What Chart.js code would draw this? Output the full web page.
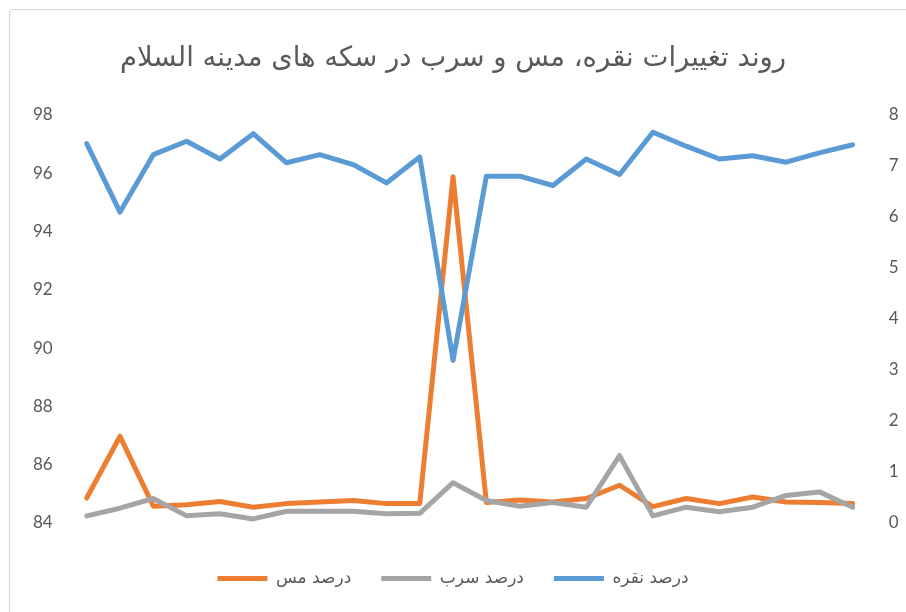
<!DOCTYPE html>
<html>
<head>
<meta charset="utf-8">
<script src="https://cdn.jsdelivr.net/npm/chart.js@4.4.1/dist/chart.umd.min.js"></script>
<style>
  html, body { margin: 0; padding: 0; background: #ffffff; }
  #wrap { position: relative; width: 906px; height: 612px; overflow: hidden; }
  #frame { position: absolute; left: 9px; top: 9px; width: 1000px; height: 1000px; border: 1px solid #d6d6d6; border-radius: 3px; }
  canvas { position: absolute; left: 0; top: 0; }
</style>
</head>
<body>
<div id="wrap">
  <div id="frame"></div>
  <canvas id="c" width="906" height="612"></canvas>
</div>
<script>
const titleText = 'روند تغییرات نقره، مس و سرب در سکه های مدینه السلام';
const categories = ['1','2','3','4','5','6','7','8','9','10','11','12','13','14','15','16','17','18','19','20','21','22','23','24'];
const silverLabel = 'درصد نقره';
const leadLabel = 'درصد سرب';
const copperLabel = 'درصد مس';
const silver = [97.02, 94.67, 96.64, 97.10, 96.49, 97.36, 96.36, 96.64, 96.30, 95.67, 96.56, 89.58, 95.90, 95.90, 95.58, 96.49, 95.96, 97.41, 96.93, 96.49, 96.60, 96.38, 96.70, 96.98];
const lead   = [0.14, 0.29, 0.48, 0.14, 0.18, 0.08, 0.23, 0.23, 0.23, 0.18, 0.19, 0.79, 0.44, 0.33, 0.40, 0.31, 1.32, 0.14, 0.31, 0.22, 0.31, 0.54, 0.61, 0.31];
const copper = [0.49, 1.70, 0.33, 0.36, 0.42, 0.31, 0.38, 0.41, 0.44, 0.38, 0.38, 6.79, 0.40, 0.45, 0.41, 0.48, 0.74, 0.32, 0.48, 0.38, 0.51, 0.41, 0.40, 0.38];
const leftTicks = {min: 84, max: 98, step: 2};
const rightTicks = {min: 0, max: 8, step: 1};

const txt = '#595959';
const lineDs = (label, data, color, axis) => ({
  label, data, yAxisID: axis,
  borderColor: color, backgroundColor: color,
  borderWidth: 5, pointRadius: 0, pointHoverRadius: 0,
  borderCapStyle: 'round', borderJoinStyle: 'round',
  tension: 0, fill: false
});

new Chart(document.getElementById('c'), {
  type: 'line',
  data: {
    labels: categories,
    datasets: [
      lineDs(silverLabel, silver, '#5B9BD5', 'yL'),
      lineDs(leadLabel, lead, '#A5A5A5', 'yR'),
      lineDs(copperLabel, copper, '#ED7D31', 'yR')
    ]
  },
  options: {
    responsive: false,
    animation: false,
    layout: { padding: { top: 10, bottom: 15, left: 0, right: 0 } },
    plugins: {
      title: {
        display: true, text: titleText, color: txt,
        font: { family: 'DejaVu Sans', size: 27.5, weight: 'normal' },
        padding: { top: 32, bottom: 40 }
      },
      legend: {
        position: 'bottom', reverse: true,
        labels: {
          color: txt, font: { family: 'DejaVu Sans', size: 17 },
          usePointStyle: true, pointStyle: 'line', pointStyleWidth: 50,
          padding: 30
        }
      },
      tooltip: { enabled: false }
    },
    scales: {
      x: {
        display: true, offset: false,
        ticks: { display: false }, grid: { display: false, drawTicks: false }, border: { display: false },
        afterFit: s => { s.height = 17; }
      },
      yL: {
        position: 'left', min: leftTicks.min, max: leftTicks.max,
        ticks: { stepSize: leftTicks.step, color: txt, padding: 34, font: { family: 'Lato', size: 17 } },
        grid: { display: false, drawTicks: false }, border: { display: false },
        afterFit: s => { s.width = 86.7; }
      },
      yR: {
        position: 'right', min: rightTicks.min, max: rightTicks.max,
        ticks: { stepSize: rightTicks.step, color: txt, padding: 36, font: { family: 'Lato', size: 17 } },
        grid: { display: false, drawTicks: false }, border: { display: false },
        afterFit: s => { s.width = 53.3; }
      }
    }
  }
});
</script>
</body>
</html>
